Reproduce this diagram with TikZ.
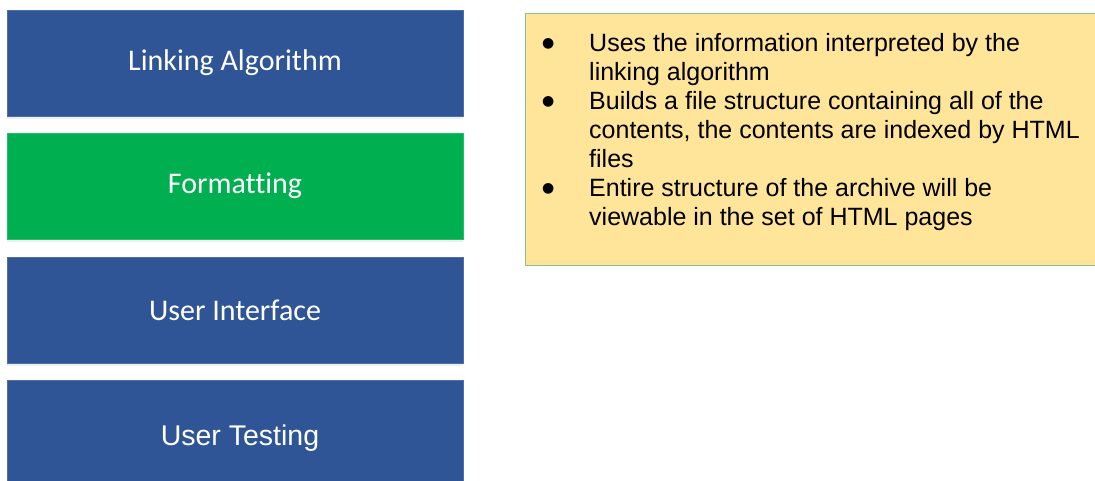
\documentclass[tikz,border=0pt]{standalone}
\usepackage{fontspec}
\setmainfont{Liberation Sans}
\newfontfamily\calibri[Ligatures=NoCommon]{Carlito}
\newfontfamily\dejavu{DejaVu Sans}
\usetikzlibrary{shadows}

\definecolor{layerblue}{HTML}{2F5597}
\definecolor{layergreen}{HTML}{00B050}
\definecolor{notefill}{HTML}{FFE599}
\definecolor{noteline}{HTML}{88C18F}

\newcommand{\notedot}{\raisebox{3.5pt}{\dejavu\fontsize{14}{29}\selectfont ●}}

\begin{document}
\begin{tikzpicture}[x=1pt, y=-1pt,
	layer/.style={fill=layerblue, draw=layerblue!85!white, line width=0.6pt,
		minimum width=456pt, minimum height=106pt, inner sep=0pt, text=white,
		font=\calibri\fontsize{30}{36}\selectfont,
		drop shadow={opacity=0.12, shadow xshift=0pt, shadow yshift=-2.5pt}}]

	\clip (0, 0) rectangle (1095, 480);
	\fill[white] (0, 0) rectangle (1095, 480);

	% stack of stages
	\node[layer] (link) at (235, 63) {Linking Algorithm};
	\node[layer, fill=layergreen, draw=layergreen!85!white] (fmt) at (235, 186) {Formatting};
	\node[layer] (ui) at (235, 310) {User Interface};
	\node[layer, minimum height=116pt, font=\fontsize{28.5}{34}\selectfont] (test) at (235, 438)
		{\hspace{10pt}User Testing};

	% notes on the formatting stage
	\draw[fill=notefill, draw=noteline, line width=1pt] (525, 13) rectangle (1100, 265);
	\node[anchor=base west, inner sep=0pt, font=\fontsize{25}{29}\selectfont] (notes) at (542, 51)
		{\begin{tabular}[t]{@{}p{47pt}@{}l@{}}
			\notedot & Uses the information interpreted by the\\
			& linking algorithm\\
			\notedot & Builds a file structure containing all of the\\
			& contents, the contents are indexed by HTML\\
			& files\\
			\notedot & Entire structure of the archive will be\\
			& viewable in the set of HTML pages
		\end{tabular}};

\end{tikzpicture}
\end{document}
